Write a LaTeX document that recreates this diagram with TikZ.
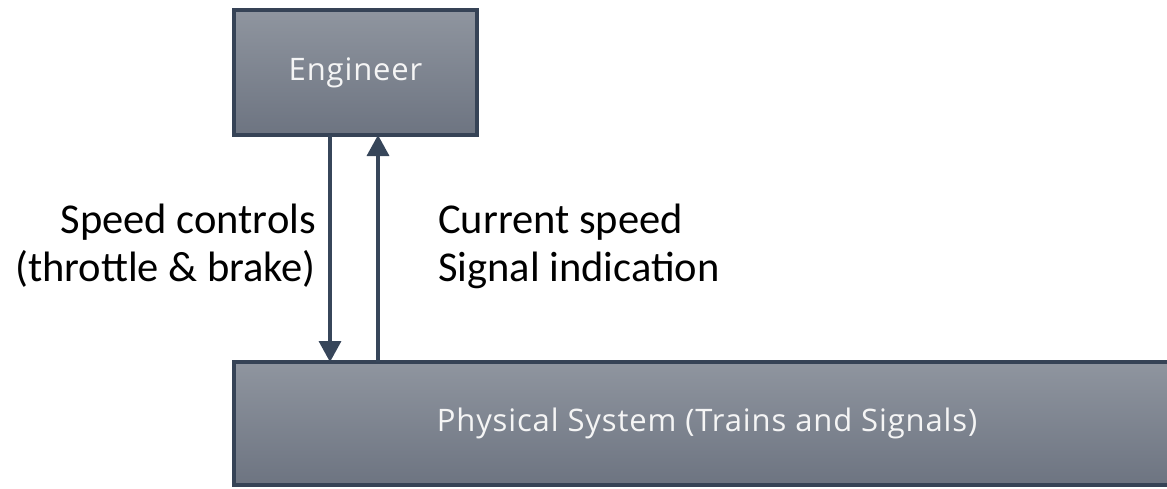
\documentclass[tikz,border=0pt]{standalone}
\usepackage{fontspec}
\setmainfont{Carlito}
\newfontfamily\boxfont[LetterSpace=2.8]{Open Sans}
\usetikzlibrary{arrows.meta}
\definecolor{edge}{RGB}{54,67,86}
\definecolor{arrowc}{RGB}{55,70,90}
\definecolor{topc}{RGB}{143,149,159}
\definecolor{botc}{RGB}{109,116,129}
\definecolor{boxtext}{RGB}{245,245,245}
\tikzset{
  block/.style={draw=edge, line width=4pt, top color=topc, bottom color=botc,
    rectangle, inner sep=0pt, outer sep=0pt, text=boxtext,
    font=\boxfont\fontsize{31}{36}\selectfont},
  flow/.style={draw=arrowc, line width=3.5pt, -{Triangle[width=22pt,length=21pt]}},
  lbl/.style={inner sep=0pt, font=\fontsize{42.5}{48}\selectfont, text=black}
}
\begin{document}
\begin{tikzpicture}[x=1pt,y=-1pt]
\useasboundingbox (0,0) rectangle (1167,488);
\clip (0,0) rectangle (1167,488);
\node[block, minimum width=243pt, minimum height=125pt] (eng) at (355.5,72.5) {Engineer};
\node[block, minimum width=946pt, minimum height=123pt] (phys) at (707,423.5) {Physical System (Trains and Signals)};
\coordinate (down) at (330,0);
\coordinate (up) at (378,0);
\draw[flow] (eng.south -| down) -- (phys.north -| down);
\draw[flow] (phys.north -| up) -- (eng.south -| up);
\node[lbl, anchor=east, align=right] (ctl) at (316,246) {Speed controls\\(throttle \& brake)};
\node[lbl, anchor=west, align=left] (fb) at (438,246) {Current speed\\Signal indication};
\end{tikzpicture}
\end{document}
